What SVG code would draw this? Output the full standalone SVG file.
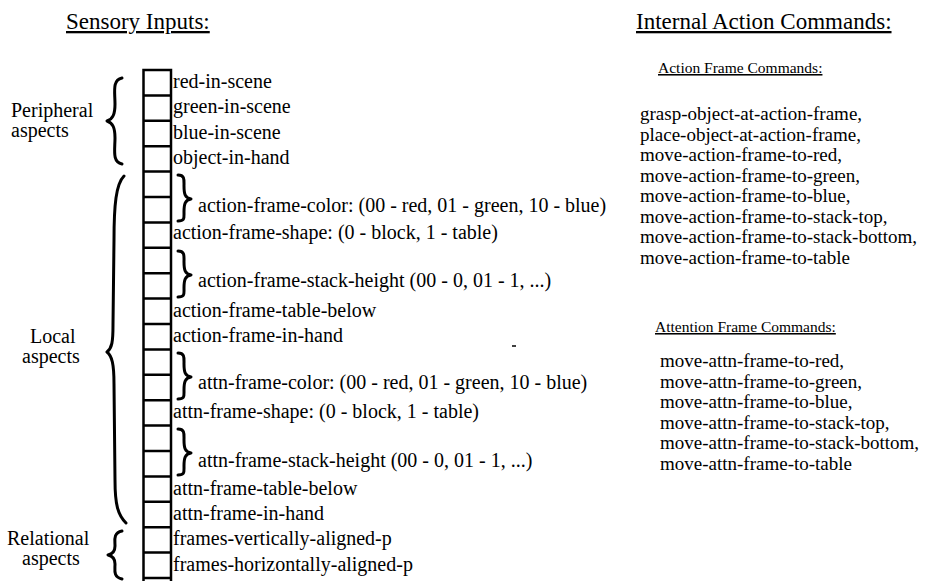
<svg xmlns="http://www.w3.org/2000/svg" width="947" height="581" viewBox="0 0 947 581">
<style>
text{font-family:"Liberation Serif","Times New Roman",serif;fill:#000}
.b{font-size:20px}
.c{font-size:19px}
.h{font-size:23px;text-decoration:underline}
.s{font-size:15.5px;text-decoration:underline}
.br{fill:none;stroke:#000;stroke-width:3;stroke-linecap:round;stroke-linejoin:round}
.cell{fill:none;stroke:#000;stroke-width:2.5}
</style>
<rect width="947" height="581" fill="#fff"/>
<g id="titles">
<text class="h" x="66" y="29">Sensory Inputs:</text>
<text class="h" x="636" y="29">Internal Action Commands:</text>
</g>
<g id="column">
<rect class="cell" x="143.5" y="70" width="27.5" height="515" stroke-width="3.4"/>
<path class="cell" d="M143 95.4H171M143 120.8H171M143 146.2H171M143 171.6H171M143 197H171M143 222.4H171M143 247.8H171M143 273.2H171M143 298.6H171M143 324H171M143 349.4H171M143 374.8H171M143 400.2H171M143 425.6H171M143 451H171M143 476.4H171M143 501.8H171M143 527.2H171M143 552.6H171M143 578H171"/>
</g>
<g id="peripheral">
<text class="b" x="11" y="117">Peripheral</text>
<text class="b" x="11" y="137">aspects</text>
<path class="br" d="M122 78C112 80 115 92 115 104C115 114 113 119 107 121C113 123 115 128 115 138C115 150 112 162 122 164"/>
</g>
<g id="local">
<text class="b" x="30" y="343">Local</text>
<text class="b" x="22" y="363">aspects</text>
<path class="br" stroke-width="4.4" d="M124 176C116 184 114 205 114 240L113 325C113 342 112 348 107 352C112 356 114 364 114 384L115 480C115 505 118 515 126 523"/>
</g>
<g id="relational">
<text class="b" x="7" y="545">Relational</text>
<text class="b" x="22" y="565">aspects</text>
<path class="br" d="M122 531C113 533 115 540 115 546C115 551 113 554 108 555C113 556 115 559 115 564C115 570 113 577 122 579"/>
</g>
<g id="sensory-labels">
<text class="b" x="173" y="88">red-in-scene</text>
<text class="b" x="173" y="113">green-in-scene</text>
<text class="b" x="173" y="138.5">blue-in-scene</text>
<text class="b" x="173" y="164">object-in-hand</text>
<path class="br" d="M178 175C185 175 184 180 184 186C184 194 185 198 191 199C185 200 184 204 184 212C184 218 185 221 178 221"/>
<text class="b" x="198" y="212">action-frame-color: (00 - red, 01 - green, 10 - blue)</text>
<text class="b" x="173" y="239">action-frame-shape: (0 - block, 1 - table)</text>
<path class="br" d="M178 251C185 251 184 256 184 262C184 270 185 274 191 275C185 276 184 280 184 288C184 294 185 297 178 297"/>
<text class="b" x="198" y="287">action-frame-stack-height (00 - 0, 01 - 1, ...)</text>
<text class="b" x="173" y="317">action-frame-table-below</text>
<text class="b" x="173" y="342">action-frame-in-hand</text>
<path class="br" d="M178 353C185 353 184 358 184 364C184 372 185 376 191 377C185 378 184 382 184 390C184 396 185 399 178 399"/>
<text class="b" x="198" y="389">attn-frame-color: (00 - red, 01 - green, 10 - blue)</text>
<text class="b" x="173" y="418">attn-frame-shape: (0 - block, 1 - table)</text>
<path class="br" d="M178 429C185 429 184 434 184 440C184 448 185 452 191 453C185 454 184 458 184 466C184 472 185 475 178 475"/>
<text class="b" x="198" y="467">attn-frame-stack-height (00 - 0, 01 - 1, ...)</text>
<text class="b" x="173" y="495">attn-frame-table-below</text>
<text class="b" x="173" y="520">attn-frame-in-hand</text>
<text class="b" x="173" y="545">frames-vertically-aligned-p</text>
<text class="b" x="173" y="571">frames-horizontally-aligned-p</text>
</g>
<g id="action-frame-commands">
<text class="s" x="658" y="73">Action Frame Commands:</text>
<text class="c" x="640" y="120">grasp-object-at-action-frame,</text>
<text class="c" x="640" y="140.5">place-object-at-action-frame,</text>
<text class="c" x="640" y="161">move-action-frame-to-red,</text>
<text class="c" x="640" y="181.5">move-action-frame-to-green,</text>
<text class="c" x="640" y="202">move-action-frame-to-blue,</text>
<text class="c" x="640" y="222.5">move-action-frame-to-stack-top,</text>
<text class="c" x="640" y="243">move-action-frame-to-stack-bottom,</text>
<text class="c" x="640" y="263.5">move-action-frame-to-table</text>
</g>
<g id="attention-frame-commands">
<text class="s" x="655" y="332">Attention Frame Commands:</text>
<text class="c" x="660" y="367">move-attn-frame-to-red,</text>
<text class="c" x="660" y="387.5">move-attn-frame-to-green,</text>
<text class="c" x="660" y="408">move-attn-frame-to-blue,</text>
<text class="c" x="660" y="428.5">move-attn-frame-to-stack-top,</text>
<text class="c" x="660" y="449">move-attn-frame-to-stack-bottom,</text>
<text class="c" x="660" y="469.5">move-attn-frame-to-table</text>
</g>
<path d="M512 346h4" stroke="#000" stroke-width="1.5"/>
</svg>
